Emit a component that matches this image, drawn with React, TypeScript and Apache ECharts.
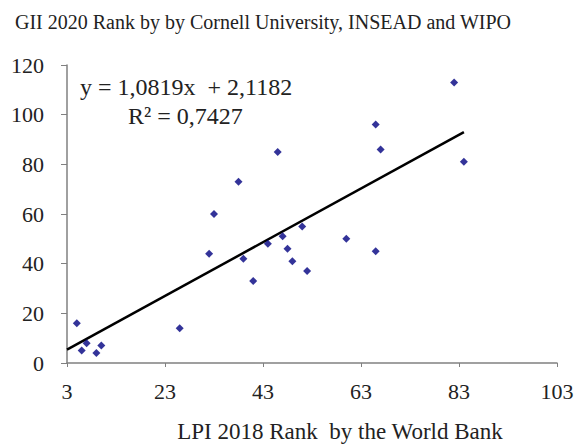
import React, { useEffect, useRef } from "react";
import * as echarts from "echarts";

const titleText = "GII 2020 Rank by by Cornell University, INSEAD and WIPO";
const xAxisName = "LPI 2018 Rank  by the World Bank";
const xTicks = [3, 23, 43, 63, 83, 103];
const lpiRank = [5, 6, 7, 9, 10, 26, 32, 33, 38, 39, 41, 44, 46, 47, 48, 49, 51, 52, 60, 66, 66, 67, 82, 84];
const giiRank = [16, 5, 8, 4, 7, 14, 44, 60, 73, 42, 33, 48, 85, 51, 46, 41, 55, 37, 50, 45, 96, 86, 113, 81];
const slope = 1.0819;
const intercept = 2.1182;
const trendRange = [3, 84];
const eqText = "y = 1,0819x  + 2,1182";
const r2Text = "R² = 0,7427";

const FONT = "Liberation Serif";

export default function App() {
  const ref = useRef<HTMLDivElement>(null);
  useEffect(() => {
    document.body.style.margin = "0";
    if (!ref.current) return;
    const chart = echarts.init(ref.current, undefined, { renderer: "svg" });
    const points = lpiRank.map((x, i) => [x, giiRank[i]]);
    const trend = trendRange.map((x) => [x, slope * x + intercept]);
    chart.setOption({
      animation: false,
      backgroundColor: "#ffffff",
      textStyle: { fontFamily: FONT },
      grid: { left: 67, right: 19, top: 65, bottom: 85, outerBoundsMode: "none", containLabel: false },
      graphic: [
        {
          type: "text",
          x: 263,
          y: 22,
          style: {
            text: titleText,
            fontFamily: FONT,
            fontSize: 20,
            fill: "#222",
            textAlign: "center",
            textVerticalAlign: "middle",
          },
        },
        {
          type: "text",
          x: 80,
          y: 87,
          style: {
            text: eqText,
            fontFamily: FONT,
            fontSize: 24,
            fill: "#222",
            textAlign: "left",
            textVerticalAlign: "middle",
          },
        },
        {
          type: "text",
          x: 128,
          y: 116,
          style: {
            text: r2Text,
            fontFamily: FONT,
            fontSize: 24,
            fill: "#222",
            textAlign: "left",
            textVerticalAlign: "middle",
          },
        },
      ],
      xAxis: {
        type: "value",
        min: 3,
        max: 103,
        name: xAxisName,
        nameLocation: "middle",
        nameGap: 57,
        nameTextStyle: { fontFamily: FONT, fontSize: 23, color: "#222", padding: [0, 0, 0, 56] },
        axisLine: { lineStyle: { color: "#808080", width: 1.5 } },
        axisTick: { show: true, length: 4, customValues: xTicks, lineStyle: { color: "#808080" } },
        axisLabel: { customValues: xTicks, fontFamily: FONT, fontSize: 22, color: "#222", margin: 17 },
        splitLine: { show: false },
      },
      yAxis: {
        type: "value",
        min: 0,
        max: 120,
        interval: 20,
        axisLine: { show: true, lineStyle: { color: "#808080", width: 1.5 } },
        axisTick: { show: true, length: 6, lineStyle: { color: "#808080" } },
        axisLabel: { fontFamily: FONT, fontSize: 22, color: "#222", margin: 23 },
        splitLine: { show: false },
      },
      series: [
        {
          type: "line",
          data: trend,
          symbol: "none",
          lineStyle: { color: "#000", width: 2.5 },
          z: 2,
        },
        {
          type: "scatter",
          data: points,
          symbol: "diamond",
          symbolSize: 8,
          itemStyle: { color: "#000080" },
          z: 3,
        },
      ],
    });
    return () => chart.dispose();
  }, []);
  return <div ref={ref} style={{ width: 576, height: 448 }} />;
}
